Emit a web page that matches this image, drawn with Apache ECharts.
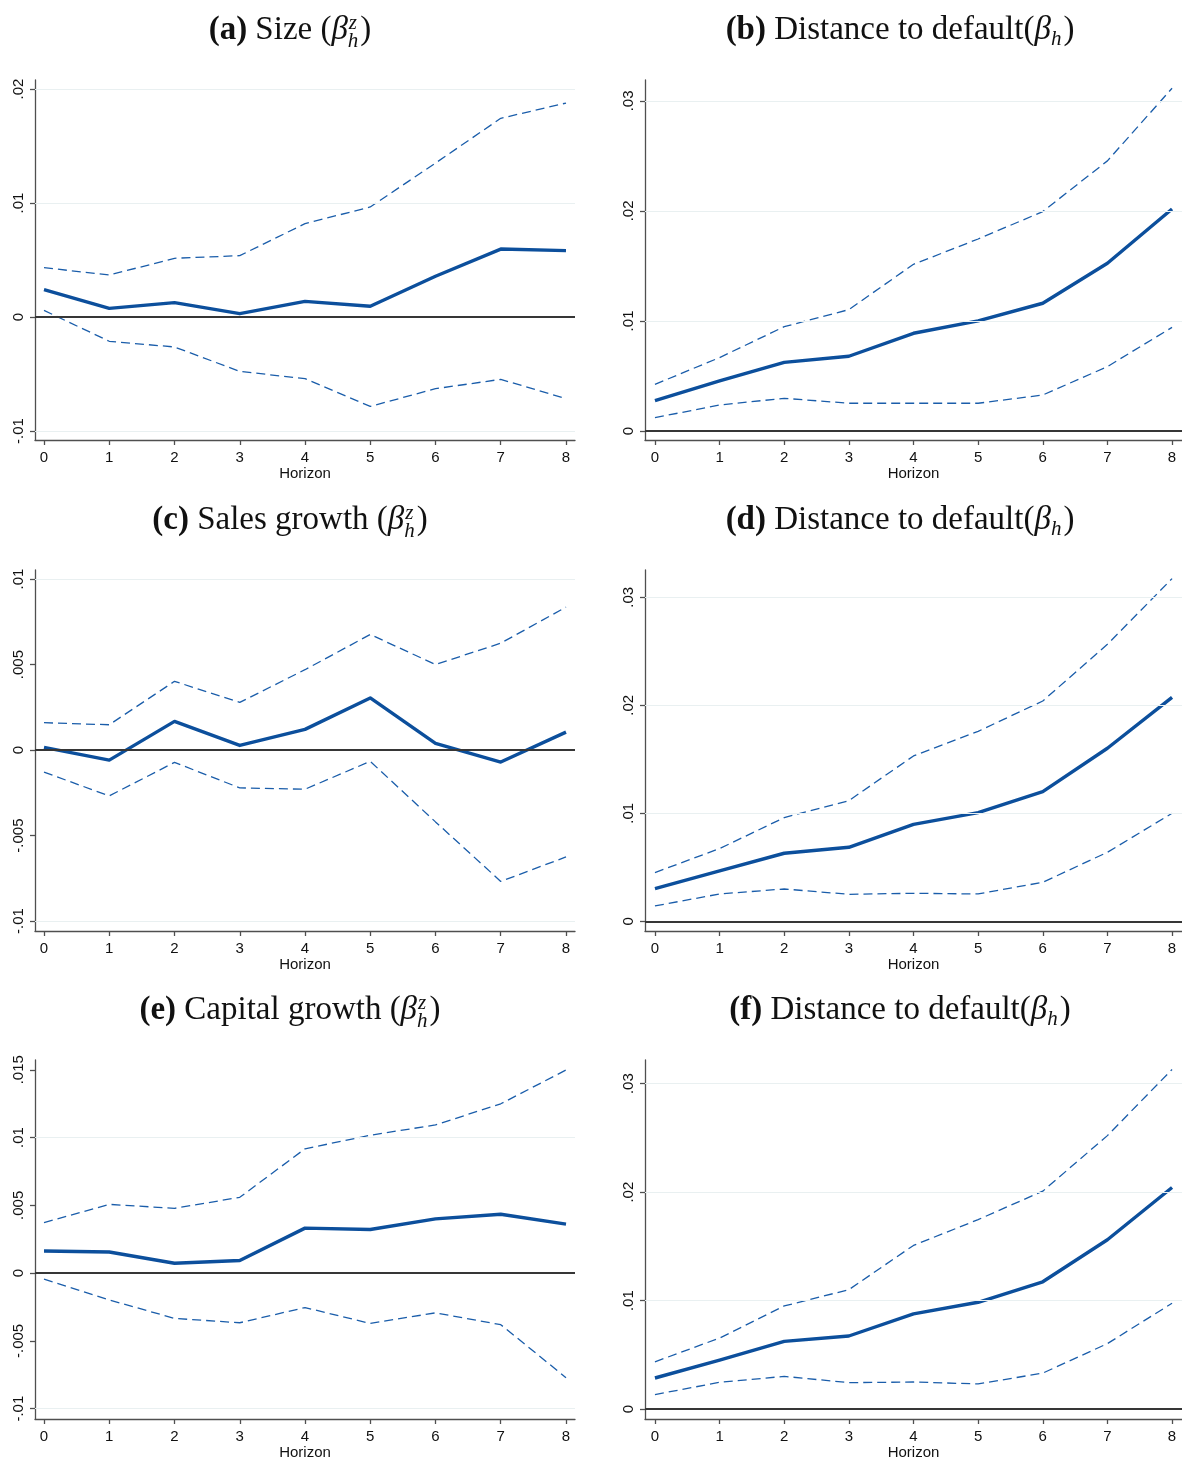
<!DOCTYPE html>
<html>
<head>
<meta charset="utf-8">
<script src="https://cdn.jsdelivr.net/npm/echarts@6/dist/echarts.min.js"></script>
<style>
  html, body { margin: 0; padding: 0; background: #ffffff; }
  #chart { width: 1182px; height: 1461px; }
</style>
</head>
<body>
<div id="chart"></div>
<script>
// Local projection horizons and axis ticks
const horizons = [0, 1, 2, 3, 4, 5, 6, 7, 8];
const xTicks = [0, 1, 2, 3, 4, 5, 6, 7, 8];

// (a) Size
const sizeBeta  = [0.0024, 0.00076, 0.00126, 0.00029, 0.00137, 0.00094, 0.00357, 0.00596, 0.00582];
const sizeUpper = [0.00433, 0.00368, 0.00515, 0.00538, 0.00819, 0.00965, 0.0135, 0.01743, 0.01877];
const sizeLower = [0.00058, -0.00213, -0.00263, -0.00477, -0.00541, -0.00784, -0.00629, -0.00547, -0.00716];
const sizeTicks = [-0.01, 0, 0.01, 0.02];

// (b) Distance to default, size specification
const dtdSizeBeta  = [0.00276, 0.00455, 0.00624, 0.00679, 0.00888, 0.01, 0.01161, 0.01524, 0.02018];
const dtdSizeUpper = [0.00424, 0.00667, 0.00948, 0.01103, 0.01515, 0.01745, 0.01994, 0.02455, 0.03115];
const dtdSizeLower = [0.00121, 0.00236, 0.00297, 0.00252, 0.00252, 0.00252, 0.00327, 0.00585, 0.00942];
const dtdSizeTicks = [0, 0.01, 0.02, 0.03];

// (c) Sales growth
const salesBeta  = [0.00016, -0.00059, 0.00168, 0.00027, 0.00121, 0.00305, 0.00039, -0.0007, 0.00105];
const salesUpper = [0.0016, 0.00148, 0.00402, 0.00279, 0.0047, 0.00676, 0.005, 0.00625, 0.00836];
const salesLower = [-0.00129, -0.00268, -0.00072, -0.00221, -0.00229, -0.00066, -0.0042, -0.00768, -0.00625];
const salesTicks = [-0.01, -0.005, 0, 0.005, 0.01];

// (d) Distance to default, sales growth specification
const dtdSalesBeta  = [0.00302, 0.00466, 0.0063, 0.00685, 0.00898, 0.01006, 0.01201, 0.01602, 0.02074];
const dtdSalesUpper = [0.00451, 0.00673, 0.0096, 0.01117, 0.01531, 0.01759, 0.0204, 0.02565, 0.03173];
const dtdSalesLower = [0.00142, 0.00253, 0.00299, 0.0025, 0.00259, 0.00253, 0.00361, 0.00639, 0.01];
const dtdSalesTicks = [0, 0.01, 0.02, 0.03];

// (e) Capital growth
const capitalBeta  = [0.00163, 0.00156, 0.00073, 0.00093, 0.00332, 0.00322, 0.004, 0.00434, 0.00361];
const capitalUpper = [0.00373, 0.00507, 0.00478, 0.00559, 0.00917, 0.01017, 0.01093, 0.01249, 0.01498];
const capitalLower = [-0.00044, -0.00198, -0.00334, -0.00366, -0.00254, -0.00371, -0.00293, -0.0038, -0.00771];
const capitalTicks = [-0.01, -0.005, 0, 0.005, 0.01, 0.015];

// (f) Distance to default, capital growth specification
const dtdCapitalBeta  = [0.00287, 0.00451, 0.00625, 0.00674, 0.00878, 0.00985, 0.01174, 0.01561, 0.02043];
const dtdCapitalUpper = [0.00436, 0.00655, 0.00951, 0.01101, 0.01509, 0.01747, 0.02009, 0.02521, 0.03131];
const dtdCapitalLower = [0.00134, 0.00247, 0.00302, 0.00244, 0.0025, 0.00232, 0.00332, 0.00604, 0.00976];
const dtdCapitalTicks = [0, 0.01, 0.02, 0.03];

// Panel titles: letter, caption, coefficient notation ('z' = beta_h^z, '' = beta_h)
const panelLetters  = ['(a)', '(b)', '(c)', '(d)', '(e)', '(f)'];
const panelCaptions = ['Size ', 'Distance to default', 'Sales growth ', 'Distance to default', 'Capital growth ', 'Distance to default'];
const panelSupers   = ['z', '', 'z', '', 'z', ''];

// ---- layout & style ----
const LINE_BLUE = '#0c4f9c';
const DASH_BLUE = '#1a5daa';
const AXIS_GRAY = '#4f4f4f';
const GRID_COLOR = '#e9f0f1';
const SANS = '"Liberation Sans", Arial, Helvetica, sans-serif';
const SERIF = '"Liberation Serif", "Times New Roman", serif';

const rowTop = [80, 570, 1060];
const rowHeight = [360, 361, 362];
const colLeft = [35, 645];
const colWidth = 540;
const colTitleCenter = [290, 900];
const xExtent = [[-0.138, 8.138], [-0.154, 8.154]];
const yExtents = [
  [-0.01079, 0.02079], [-0.00082, 0.0319],
  [-0.01058, 0.01053], [-0.0009, 0.03253],
  [-0.01076, 0.01572], [-0.00091, 0.03218]
];

const panels = [
  { beta: sizeBeta, upper: sizeUpper, lower: sizeLower, ticks: sizeTicks },
  { beta: dtdSizeBeta, upper: dtdSizeUpper, lower: dtdSizeLower, ticks: dtdSizeTicks },
  { beta: salesBeta, upper: salesUpper, lower: salesLower, ticks: salesTicks },
  { beta: dtdSalesBeta, upper: dtdSalesUpper, lower: dtdSalesLower, ticks: dtdSalesTicks },
  { beta: capitalBeta, upper: capitalUpper, lower: capitalLower, ticks: capitalTicks },
  { beta: dtdCapitalBeta, upper: dtdCapitalUpper, lower: dtdCapitalLower, ticks: dtdCapitalTicks }
];

function stataLabel(v) {
  if (Math.abs(v) < 1e-12) return '0';
  const s = String(Math.abs(v)).replace(/^0(?=\.)/, '');
  return (v < 0 ? '-' : '') + s;
}

const grids = [], xAxes = [], yAxes = [], series = [];

panels.forEach((p, i) => {
  const row = Math.floor(i / 2), col = i % 2;
  grids.push({
    left: colLeft[col], top: rowTop[row], width: colWidth, height: rowHeight[row],
    containLabel: false
  });
  xAxes.push({
    type: 'value', gridIndex: i,
    min: xExtent[col][0], max: xExtent[col][1],
    name: 'Horizon', nameLocation: 'middle', nameGap: 26,
    nameTextStyle: { fontFamily: SANS, fontSize: 15, color: '#111' },
    axisLine: { show: true, onZero: false, lineStyle: { color: AXIS_GRAY, width: 1.3 } },
    axisTick: { show: true, customValues: xTicks, length: 5, lineStyle: { color: AXIS_GRAY, width: 1.3 } },
    axisLabel: { customValues: xTicks, fontFamily: SANS, fontSize: 15, color: '#111', margin: 10 },
    splitLine: { show: false }
  });
  yAxes.push({
    type: 'value', gridIndex: i,
    min: yExtents[i][0], max: yExtents[i][1],
    axisLine: { show: true, onZero: false, lineStyle: { color: AXIS_GRAY, width: 1.3 } },
    axisTick: { show: true, customValues: p.ticks, length: 5, lineStyle: { color: AXIS_GRAY, width: 1.3 } },
    axisLabel: {
      customValues: p.ticks, rotate: 90, margin: 9,
      fontFamily: SANS, fontSize: 15, color: '#111',
      formatter: stataLabel
    },
    splitLine: { show: false }
  });

  // reference lines: light grid at the labelled ticks, dark line at zero
  series.push({
    type: 'line', xAxisIndex: i, yAxisIndex: i, data: [], z: 1,
    silent: true, animation: false,
    markLine: {
      silent: true, animation: false, symbol: ['none', 'none'],
      label: { show: false },
      data: p.ticks.filter(v => v !== 0).map(v => ({ yAxis: v, lineStyle: { color: GRID_COLOR, width: 1.2, type: 'solid' } }))
        .concat([{ yAxis: 0, lineStyle: { color: '#363636', width: 1.8, type: 'solid' } }])
    }
  });

  const pair = arr => horizons.map((h, k) => [h, arr[k]]);
  [['upper', p.upper], ['lower', p.lower]].forEach(([nm, arr]) => {
    series.push({
      name: nm, type: 'line', xAxisIndex: i, yAxisIndex: i, z: 3,
      data: pair(arr), symbol: 'none', silent: true, animation: false,
      lineStyle: { color: DASH_BLUE, width: 1.3, type: [9, 5] }
    });
  });
  series.push({
    name: 'beta', type: 'line', xAxisIndex: i, yAxisIndex: i, z: 4,
    data: pair(p.beta), symbol: 'none', silent: true, animation: false,
    lineStyle: { color: LINE_BLUE, width: 3.4, join: 'round' }
  });
});

// ---- titles: bold letter, caption, beta with sub/superscript ----
const measureCtx = document.createElement('canvas').getContext('2d');
function textWidth(font, txt) { measureCtx.font = font; return measureCtx.measureText(txt).width; }

const MAIN = 33, SMALL = 21;
const fBold = `bold ${MAIN}px ${SERIF}`;
const fReg = `${MAIN}px ${SERIF}`;
const fIt = `italic ${MAIN}px ${SERIF}`;
const fSmallIt = `italic ${SMALL}px ${SERIF}`;

const graphics = [];
panels.forEach((p, i) => {
  const row = Math.floor(i / 2), col = i % 2;
  const yMid = 30 + row * 490;
  const hasSup = panelSupers[i] !== '';
  const pieces = [
    { t: panelLetters[i] + ' ', font: fBold },
    { t: panelCaptions[i] + '(', font: fReg },
    { t: 'β', font: fIt },
    { stack: true, sup: panelSupers[i], sub: 'h' },
    { t: ')', font: fReg }
  ];
  const widths = pieces.map(pc => pc.stack
    ? Math.max(pc.sup ? textWidth(fSmallIt, pc.sup) : 0, textWidth(fSmallIt, pc.sub)) + 2
    : textWidth(pc.font, pc.t));
  const total = widths.reduce((a, b) => a + b, 0);
  let x = colTitleCenter[col] - total / 2;
  pieces.forEach((pc, k) => {
    if (pc.stack) {
      if (pc.sup) {
        graphics.push({ type: 'text', x: x + 1, y: yMid - 7, silent: true,
          style: { text: pc.sup, font: fSmallIt, fill: '#111', align: 'left', verticalAlign: 'middle' } });
      }
      graphics.push({ type: 'text', x: x, y: yMid + (hasSup ? 11 : 9), silent: true,
        style: { text: pc.sub, font: fSmallIt, fill: '#111', align: 'left', verticalAlign: 'middle' } });
    } else {
      graphics.push({ type: 'text', x: x, y: yMid, silent: true,
        style: { text: pc.t, font: pc.font, fill: '#111', align: 'left', verticalAlign: 'middle' } });
    }
    x += widths[k];
  });
});

const chart = echarts.init(document.getElementById('chart'), null, { renderer: 'canvas' });
chart.setOption({
  backgroundColor: '#ffffff',
  animation: false,
  grid: grids,
  xAxis: xAxes,
  yAxis: yAxes,
  series: series,
  graphic: graphics
});
</script>
</body>
</html>
